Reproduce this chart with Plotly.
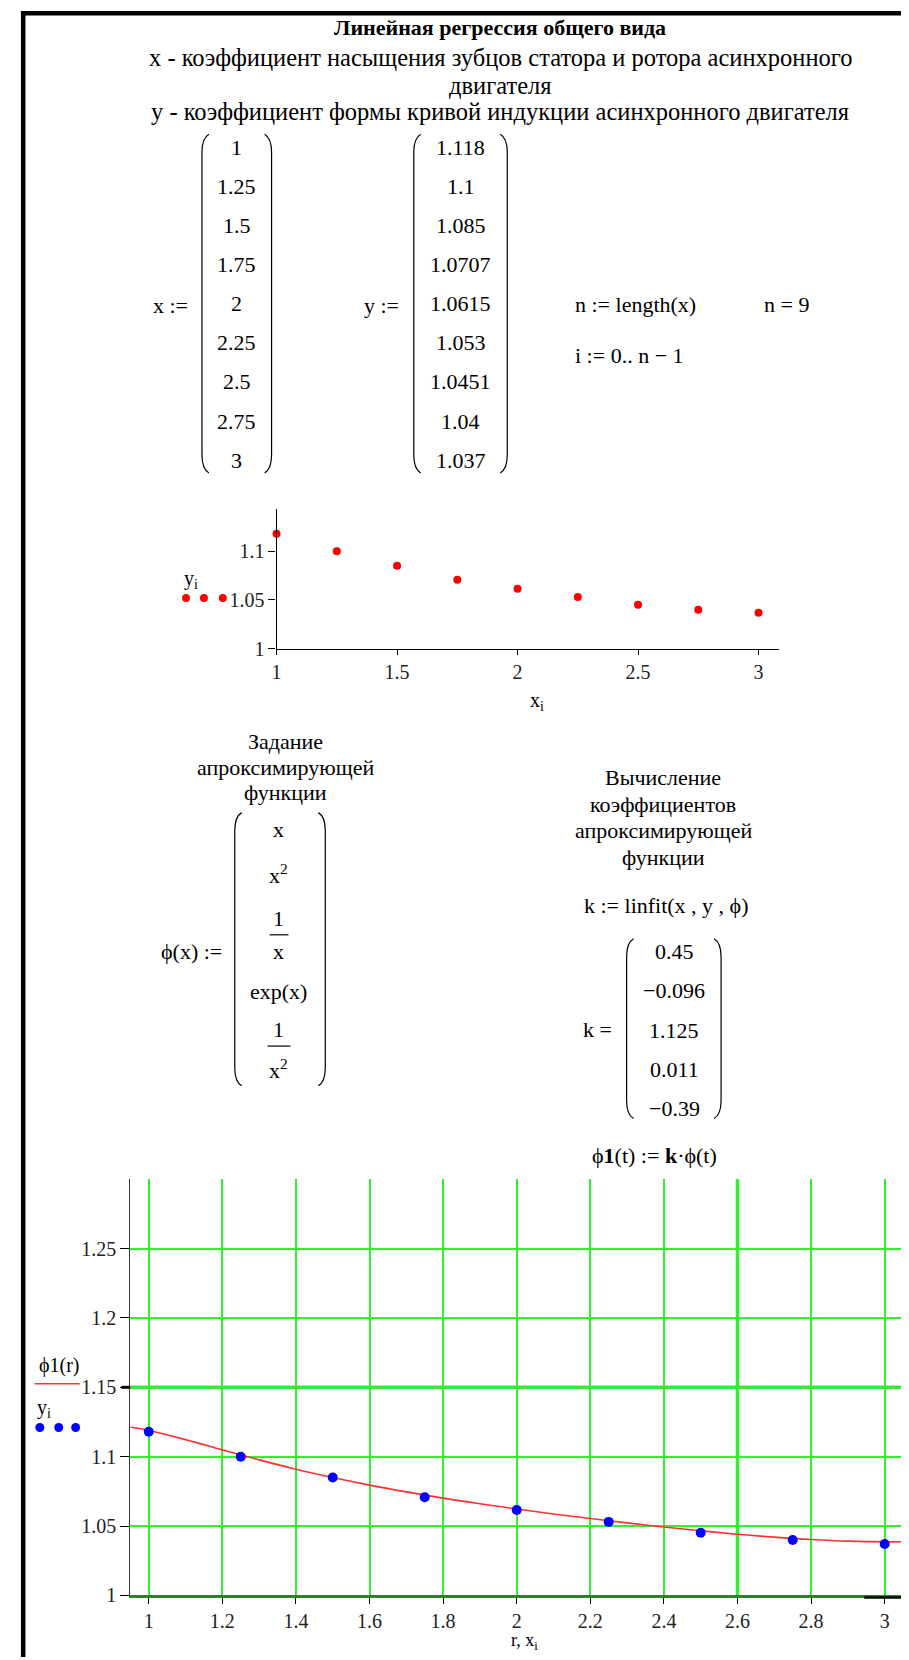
import plotly.graph_objects as go

# --- исходные данные (Mathcad: линейная регрессия общего вида) ---
x_data = [1, 1.25, 1.5, 1.75, 2, 2.25, 2.5, 2.75, 3]
y_data = [1.118, 1.1, 1.085, 1.0707, 1.0615, 1.053, 1.0451, 1.04, 1.037]
k_coef = [0.45, -0.096, 1.125, 0.011, -0.39]
n_len = len(x_data)

# кривая phi1(r)
r_grid = [0.95, 1.0, 1.1, 1.2, 1.3, 1.4, 1.5, 1.6, 1.7, 1.8, 1.9, 2.0,
          2.1, 2.2, 2.3, 2.4, 2.5, 2.6, 2.7, 2.8, 2.9, 3.0, 3.05]
phi1_r = [1.1214, 1.1189, 1.1123, 1.1049, 1.0977, 1.0910, 1.0850, 1.0795,
          1.0746, 1.0701, 1.0661, 1.0623, 1.0587, 1.0554, 1.0523, 1.0493,
          1.0466, 1.0441, 1.0420, 1.0403, 1.0391, 1.0386, 1.0387]

small_xticks = [1, 1.5, 2, 2.5, 3]
small_yticks = [1, 1.05, 1.1]
big_xticks = [1, 1.2, 1.4, 1.6, 1.8, 2, 2.2, 2.4, 2.6, 2.8, 3]
big_yticks = [1, 1.05, 1.1, 1.15, 1.2, 1.25]
thick_grid_x = [2.6]
thick_grid_y = [1.15]

W, H = 909, 1660
SERIF = "Liberation Serif"
GREEN = "#33ee33"
TICKFONT = dict(family=SERIF, size=20, color="#222")

def px(v):
    return v / W

def py(v):
    return 1 - v / H

ann = []
shapes = []

def text(x, y, s, size=22, xanchor="center", color="black"):
    ann.append(dict(xref="paper", yref="paper", x=px(x), y=py(y), text=s,
                    showarrow=False, xanchor=xanchor, yanchor="middle",
                    font=dict(family=SERIF, size=size, color=color)))

def paren(x, top, bot, d):
    # d = +1 левая скобка, -1 правая
    hx = x + d * 7
    p = (f"M {px(hx)} {py(top)} Q {px(x)} {py(top + 4)} {px(x)} {py(top + 18)} "
         f"L {px(x)} {py(bot - 18)} Q {px(x)} {py(bot - 4)} {px(hx)} {py(bot)}")
    shapes.append(dict(type="path", xref="paper", yref="paper", path=p,
                       line=dict(color="black", width=1.2)))

def hline(x0, x1, y, width=1.2, color="black"):
    shapes.append(dict(type="line", xref="paper", yref="paper",
                       x0=px(x0), x1=px(x1), y0=py(y), y1=py(y),
                       line=dict(color=color, width=width)))

def dot(x, y, color, d=9):
    shapes.append(dict(type="circle", xref="paper", yref="paper",
                       x0=px(x - d / 2), x1=px(x + d / 2), y0=py(y + d / 2), y1=py(y - d / 2),
                       fillcolor=color, line=dict(width=0)))

def fmt(v):
    s = f"{v:g}"
    return s.replace("-", "\u2212")

# рамка листа
shapes.append(dict(type="rect", xref="paper", yref="paper", x0=px(8), x1=px(12.5),
                   y0=0, y1=py(3), fillcolor="black", line=dict(width=0)))
shapes.append(dict(type="rect", xref="paper", yref="paper", x0=px(8), x1=1,
                   y0=py(7.5), y1=py(3), fillcolor="black", line=dict(width=0)))

# заголовок
CX = 490
text(CX, 20, "<b>Линейная регрессия общего вида</b>", size=22)
text(CX, 50, "x - коэффициент насыщения зубцов статора и ротора асинхронного", size=24.5)
text(CX, 78, "двигателя", size=24.5)
text(CX, 104, "y - коэффициент формы кривой индукции асинхронного двигателя", size=24.5)

# векторы x и y
for i, v in enumerate(x_data):
    text(225, 140 + 39.4 * i, fmt(v))
for i, v in enumerate(y_data):
    text(450, 140 + 39.4 * i, fmt(v))
text(178, 299, "x :=", xanchor="right")
text(390, 299, "y :=", xanchor="right")
paren(190, 127, 468, 1)
paren(260, 127, 468, -1)
paren(403, 127, 468, 1)
paren(497, 127, 468, -1)

text(563, 298, "n := length(x)", xanchor="left")
text(753, 298, f"n = {n_len}", xanchor="left")
text(563, 350, "i := 0.. n \u2212 1", xanchor="left")

# подписи малого графика
text(179, 575, "y<sub>i</sub>", size=20)
for xx in (174, 192, 211):
    dot(xx, 594, "#ff0000", 8)
text(527, 698, "x<sub>i</sub>", size=20)

# задание аппроксимирующей функции
text(274, 738, "Задание")
text(274, 765, "апроксимирующей")
text(274, 790, "функции")
paren(223, 810, 1085, 1)
paren(314, 810, 1085, -1)
text(267, 827, "x")
text(267, 872, "x<sup>2</sup>")
text(267, 917, "1")
hline(258, 277, 933)
text(267, 950, "x")
text(267, 990, "exp(x)")
text(267, 1028, "1")
hline(256, 279, 1045)
text(267, 1068, "x<sup>2</sup>")
text(212, 950, "\u03d5(x) :=", xanchor="right")

# коэффициенты
text(654, 775, "Вычисление")
text(654, 802, "коэффициентов")
text(654, 828, "апроксимирующей")
text(654, 855, "функции")
text(657, 903, "k := linfit(x , y , \u03d5)")
paren(617, 937, 1118, 1)
paren(712, 937, 1118, -1)
for i, v in enumerate(k_coef):
    text(665, 950 + 39.5 * i, fmt(v))
text(604, 1028, "k =", xanchor="right")
text(645, 1155, "\u03d5<b>1</b>(t) := <b>k</b>\u00b7\u03d5(t)")

# легенда большого графика
text(47, 1367, "\u03d51(r)", size=20)
hline(22, 67, 1385, 1.6, "#ff3030")
text(31, 1410, "y<sub>i</sub>", size=20)
for xx in (27, 46, 63):
    dot(xx, 1429, "#0000ff", 9)
text(514, 1644, "r, x<sub>i</sub>", size=18)

# утолщённые линии сетки
for v in thick_grid_x:
    shapes.append(dict(type="line", xref="x2", yref="paper", x0=v, x1=v,
                       y0=py(1598), y1=py(1179),
                       line=dict(color=GREEN, width=3.5), layer="below"))
for v in thick_grid_y:
    shapes.append(dict(type="line", xref="paper", yref="y2", x0=px(118), x1=px(895), y0=v, y1=v,
                       line=dict(color=GREEN, width=3.5), layer="below"))
    shapes.append(dict(type="line", xref="paper", yref="y2", x0=px(109), x1=px(118), y0=v, y1=v,
                       line=dict(color="black", width=3)))
# тёмный отрезок у правого конца оси
hline(856, 894, 1600, 2.5, "black")

fig = go.Figure()
fig.add_trace(go.Scatter(x=x_data, y=y_data, mode="markers", xaxis="x", yaxis="y",
                         marker=dict(color="#ff0000", size=8), cliponaxis=False))
fig.add_trace(go.Scatter(x=r_grid, y=phi1_r, mode="lines", xaxis="x2", yaxis="y2",
                         line=dict(color="#ff3030", width=1.6, shape="spline")))
fig.add_trace(go.Scatter(x=x_data, y=y_data, mode="markers", xaxis="x2", yaxis="y2",
                         marker=dict(color="#0000ff", size=10), cliponaxis=False))

axis_common = dict(showline=True, zeroline=False, ticks="outside", tickcolor="black",
                   tickfont=TICKFONT, fixedrange=True)

fig.update_layout(
    width=W, height=H, margin=dict(l=0, r=0, t=0, b=0),
    paper_bgcolor="white", plot_bgcolor="white", showlegend=False,
    xaxis=dict(domain=[px(265), px(770)], range=[1, 3.084], anchor="y",
               linecolor="black", linewidth=1.2, showgrid=False, ticklen=5,
               tickvals=small_xticks, ticktext=[fmt(v) for v in small_xticks], **axis_common),
    yaxis=dict(domain=[py(645), py(504)], range=[1, 1.1436], anchor="x",
               linecolor="black", linewidth=1.2, showgrid=False, ticklen=7,
               tickvals=small_yticks, ticktext=[fmt(v) for v in small_yticks], **axis_common),
    xaxis2=dict(domain=[px(118), px(895)], range=[0.95, 3.05], anchor="y2",
                linecolor="#2f7f2f", linewidth=3, showgrid=True, gridcolor=GREEN, gridwidth=1.5,
                ticklen=6, tickvals=big_xticks, ticktext=[fmt(v) for v in big_xticks], **axis_common),
    yaxis2=dict(domain=[py(1598), py(1179)], range=[1, 1.3], anchor="x2",
                linecolor="#333", linewidth=1.2, showgrid=True, gridcolor=GREEN, gridwidth=1.5,
                ticklen=9, tickvals=big_yticks, ticktext=[fmt(v) for v in big_yticks], **axis_common),
    annotations=ann, shapes=shapes,
)

fig.write_html("out.html")
